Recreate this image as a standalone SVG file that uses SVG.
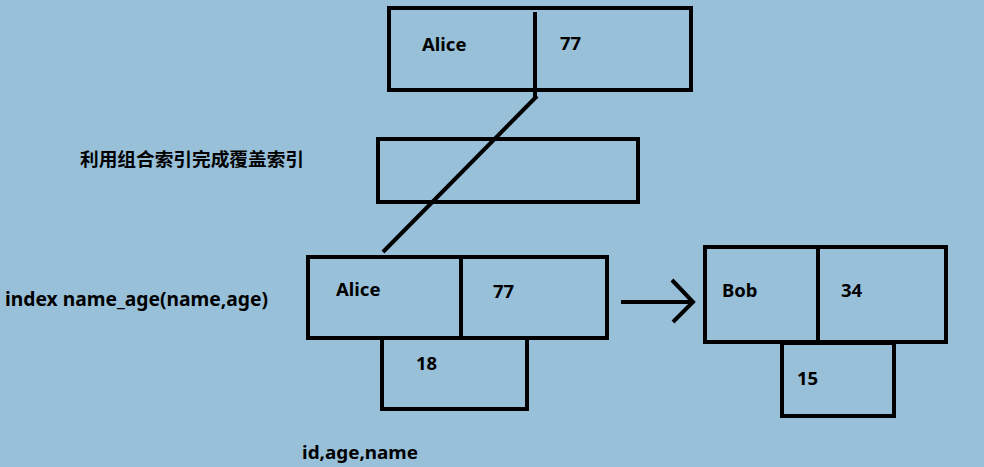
<svg xmlns="http://www.w3.org/2000/svg" width="984" height="467" viewBox="0 0 984 467">
<style>
.b{fill:none;stroke:#000;stroke-width:4}
.t{font-family:"Noto Sans","Open Sans","Noto Sans CJK SC",sans-serif;font-weight:bold;font-size:18.5px;fill:#000}
.c{font-family:"Noto Sans CJK SC","Noto Sans",sans-serif;font-weight:bold;font-size:18px;fill:#000}
</style>
<rect width="984" height="467" fill="#99c0d9"/>
<g id="connectors">
<line class="b" x1="537" y1="96" x2="383" y2="252" stroke-width="3"/>
<line class="b" x1="621" y1="302" x2="693" y2="302"/>
<polyline class="b" points="672,280 693,302 673,322"/>
</g>
<g id="top-node">
<rect class="b" x="389" y="8" width="302" height="82"/>
<line class="b" x1="535" y1="12" x2="535" y2="98"/>
<text class="t" x="422" y="51">Alice</text>
<text class="t" x="560" y="50">77</text>
</g>
<g id="middle-node">
<rect class="b" x="378" y="139" width="260" height="63"/>
</g>
<g id="title-label">
<text class="c" x="80" y="166" textLength="224" lengthAdjust="spacingAndGlyphs">利用组合索引完成覆盖索引</text>
</g>
<g id="index-label">
<text class="t" x="5" y="306" textLength="263" lengthAdjust="spacingAndGlyphs" style="font-size:19px">index name_age(name,age)</text>
</g>
<g id="alice-node">
<rect class="b" x="308" y="257" width="299" height="81"/>
<line class="b" x1="461" y1="257" x2="461" y2="338"/>
<text class="t" x="336" y="296">Alice</text>
<text class="t" x="493" y="298">77</text>
</g>
<g id="alice-id-node">
<rect class="b" x="382" y="338" width="145" height="71"/>
<text class="t" x="416" y="370">18</text>
</g>
<g id="cols-label">
<text class="t" x="302" y="459" textLength="116" lengthAdjust="spacingAndGlyphs">id,age,name</text>
</g>
<g id="bob-node">
<rect class="b" x="705" y="247" width="241" height="95"/>
<line class="b" x1="818" y1="247" x2="818" y2="342"/>
<text class="t" x="722" y="297">Bob</text>
<text class="t" x="841" y="297">34</text>
</g>
<g id="bob-id-node">
<rect class="b" x="782" y="343" width="112" height="73"/>
<text class="t" x="797" y="385">15</text>
</g>
</svg>
